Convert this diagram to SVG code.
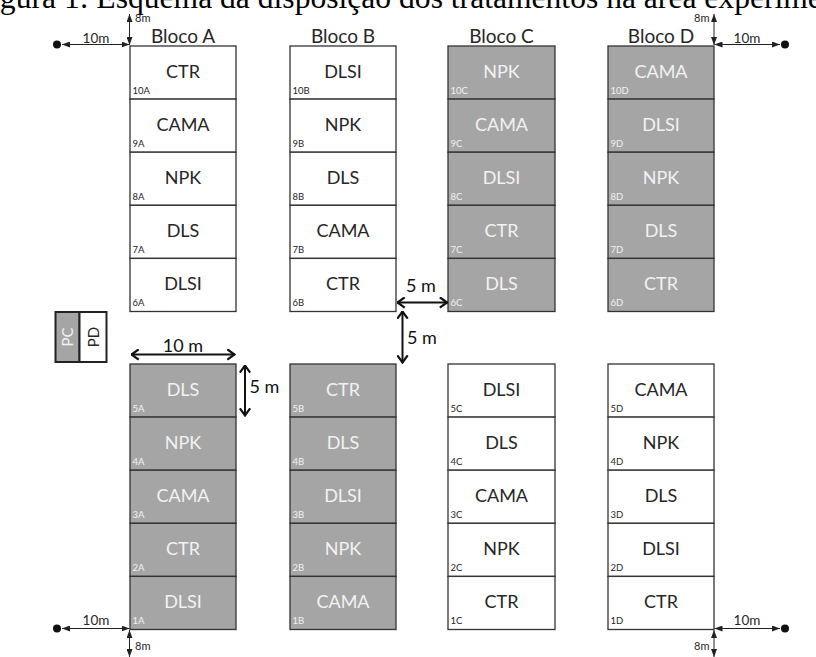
<svg xmlns="http://www.w3.org/2000/svg" width="816" height="657" viewBox="0 0 816 657">
<defs>
<style>
.w{fill:#ffffff;stroke:#333333;stroke-width:1.3}
.g{fill:#a5a5a5;stroke:#333333;stroke-width:1.3}
.t{font-family:Lato,"Noto Sans",sans-serif;font-size:18px;text-anchor:middle;fill:#262626}
.tg{font-family:Lato,"Noto Sans",sans-serif;font-size:18px;text-anchor:middle;fill:#f2f2f2}
.n{font-family:Lato,"Noto Sans",sans-serif;font-size:9.5px;fill:#262626}
.ng{font-family:Lato,"Noto Sans",sans-serif;font-size:9.5px;fill:#f2f2f2}
.bl{font-family:Lato,"Noto Sans",sans-serif;font-size:19px;text-anchor:middle;fill:#262626}
.dim{font-family:Lato,"Noto Sans",sans-serif;font-size:13.5px;fill:#262626}
.sm{font-family:Lato,"Noto Sans",sans-serif;font-size:11px;fill:#262626}
.big{font-family:Lato,"Noto Sans",sans-serif;font-size:18px;fill:#111111}
.thin{stroke:#222;stroke-width:1;fill:none;marker-start:url(#tri);marker-end:url(#tri)}
.thick{stroke:#111;stroke-width:2;fill:none;marker-start:url(#chev);marker-end:url(#chev)}
</style>
<marker id="tri" viewBox="0 0 8 6" refX="8" refY="3" markerWidth="8" markerHeight="6" markerUnits="userSpaceOnUse" orient="auto-start-reverse"><path d="M0,0 L8,3 L0,6 z" fill="#222"/></marker>
<marker id="chev" viewBox="0 0 9 12" refX="8.5" refY="6" markerWidth="9" markerHeight="12" markerUnits="userSpaceOnUse" orient="auto-start-reverse"><path d="M0.8,0.8 L8,6 L0.8,11.2" fill="none" stroke="#111" stroke-width="2.2"/></marker>
</defs>
<rect width="816" height="657" fill="#ffffff"/>
<text x="-26.5" y="7.5" font-family="'Liberation Serif',serif" font-size="31.6" fill="#000">Figura 1: Esquema da disposição dos tratamentos na área experimental</text>

<g id="block-labels">
<text class="bl" x="183" y="42.5">Bloco A</text>
<text class="bl" x="343" y="42.5">Bloco B</text>
<text class="bl" x="501.5" y="42.5">Bloco C</text>
<text class="bl" x="661" y="42.5">Bloco D</text>
</g>

<g id="plot-10A"><rect class="w" x="130" y="46" width="106" height="53.1"/><text class="t" x="183" y="78">CTR</text><text class="n" x="132.5" y="94">10A</text></g>
<g id="plot-9A"><rect class="w" x="130" y="99.1" width="106" height="53.1"/><text class="t" x="183" y="131.1">CAMA</text><text class="n" x="132.5" y="147.1">9A</text></g>
<g id="plot-8A"><rect class="w" x="130" y="152.2" width="106" height="53.1"/><text class="t" x="183" y="184.2">NPK</text><text class="n" x="132.5" y="200.2">8A</text></g>
<g id="plot-7A"><rect class="w" x="130" y="205.3" width="106" height="53.1"/><text class="t" x="183" y="237.3">DLS</text><text class="n" x="132.5" y="253.3">7A</text></g>
<g id="plot-6A"><rect class="w" x="130" y="258.4" width="106" height="53.1"/><text class="t" x="183" y="290.4">DLSI</text><text class="n" x="132.5" y="306.4">6A</text></g>

<g id="plot-10B"><rect class="w" x="290" y="46" width="106" height="53.1"/><text class="t" x="343" y="78">DLSI</text><text class="n" x="292.5" y="94">10B</text></g>
<g id="plot-9B"><rect class="w" x="290" y="99.1" width="106" height="53.1"/><text class="t" x="343" y="131.1">NPK</text><text class="n" x="292.5" y="147.1">9B</text></g>
<g id="plot-8B"><rect class="w" x="290" y="152.2" width="106" height="53.1"/><text class="t" x="343" y="184.2">DLS</text><text class="n" x="292.5" y="200.2">8B</text></g>
<g id="plot-7B"><rect class="w" x="290" y="205.3" width="106" height="53.1"/><text class="t" x="343" y="237.3">CAMA</text><text class="n" x="292.5" y="253.3">7B</text></g>
<g id="plot-6B"><rect class="w" x="290" y="258.4" width="106" height="53.1"/><text class="t" x="343" y="290.4">CTR</text><text class="n" x="292.5" y="306.4">6B</text></g>

<g id="plot-10C"><rect class="g" x="448" y="46" width="107" height="53.1"/><text class="tg" x="501.5" y="78">NPK</text><text class="ng" x="450.5" y="94">10C</text></g>
<g id="plot-9C"><rect class="g" x="448" y="99.1" width="107" height="53.1"/><text class="tg" x="501.5" y="131.1">CAMA</text><text class="ng" x="450.5" y="147.1">9C</text></g>
<g id="plot-8C"><rect class="g" x="448" y="152.2" width="107" height="53.1"/><text class="tg" x="501.5" y="184.2">DLSI</text><text class="ng" x="450.5" y="200.2">8C</text></g>
<g id="plot-7C"><rect class="g" x="448" y="205.3" width="107" height="53.1"/><text class="tg" x="501.5" y="237.3">CTR</text><text class="ng" x="450.5" y="253.3">7C</text></g>
<g id="plot-6C"><rect class="g" x="448" y="258.4" width="107" height="53.1"/><text class="tg" x="501.5" y="290.4">DLS</text><text class="ng" x="450.5" y="306.4">6C</text></g>

<g id="plot-10D"><rect class="g" x="608" y="46" width="106" height="53.1"/><text class="tg" x="661" y="78">CAMA</text><text class="ng" x="610.5" y="94">10D</text></g>
<g id="plot-9D"><rect class="g" x="608" y="99.1" width="106" height="53.1"/><text class="tg" x="661" y="131.1">DLSI</text><text class="ng" x="610.5" y="147.1">9D</text></g>
<g id="plot-8D"><rect class="g" x="608" y="152.2" width="106" height="53.1"/><text class="tg" x="661" y="184.2">NPK</text><text class="ng" x="610.5" y="200.2">8D</text></g>
<g id="plot-7D"><rect class="g" x="608" y="205.3" width="106" height="53.1"/><text class="tg" x="661" y="237.3">DLS</text><text class="ng" x="610.5" y="253.3">7D</text></g>
<g id="plot-6D"><rect class="g" x="608" y="258.4" width="106" height="53.1"/><text class="tg" x="661" y="290.4">CTR</text><text class="ng" x="610.5" y="306.4">6D</text></g>

<g id="plot-5A"><rect class="g" x="130" y="364" width="106" height="53.1"/><text class="tg" x="183" y="396">DLS</text><text class="ng" x="132.5" y="412">5A</text></g>
<g id="plot-4A"><rect class="g" x="130" y="417.1" width="106" height="53.1"/><text class="tg" x="183" y="449.1">NPK</text><text class="ng" x="132.5" y="465.1">4A</text></g>
<g id="plot-3A"><rect class="g" x="130" y="470.2" width="106" height="53.1"/><text class="tg" x="183" y="502.2">CAMA</text><text class="ng" x="132.5" y="518.2">3A</text></g>
<g id="plot-2A"><rect class="g" x="130" y="523.3" width="106" height="53.1"/><text class="tg" x="183" y="555.3">CTR</text><text class="ng" x="132.5" y="571.3">2A</text></g>
<g id="plot-1A"><rect class="g" x="130" y="576.4" width="106" height="53.1"/><text class="tg" x="183" y="608.4">DLSI</text><text class="ng" x="132.5" y="624.4">1A</text></g>

<g id="plot-5B"><rect class="g" x="290" y="364" width="106" height="53.1"/><text class="tg" x="343" y="396">CTR</text><text class="ng" x="292.5" y="412">5B</text></g>
<g id="plot-4B"><rect class="g" x="290" y="417.1" width="106" height="53.1"/><text class="tg" x="343" y="449.1">DLS</text><text class="ng" x="292.5" y="465.1">4B</text></g>
<g id="plot-3B"><rect class="g" x="290" y="470.2" width="106" height="53.1"/><text class="tg" x="343" y="502.2">DLSI</text><text class="ng" x="292.5" y="518.2">3B</text></g>
<g id="plot-2B"><rect class="g" x="290" y="523.3" width="106" height="53.1"/><text class="tg" x="343" y="555.3">NPK</text><text class="ng" x="292.5" y="571.3">2B</text></g>
<g id="plot-1B"><rect class="g" x="290" y="576.4" width="106" height="53.1"/><text class="tg" x="343" y="608.4">CAMA</text><text class="ng" x="292.5" y="624.4">1B</text></g>

<g id="plot-5C"><rect class="w" x="448" y="364" width="107" height="53.1"/><text class="t" x="501.5" y="396">DLSI</text><text class="n" x="450.5" y="412">5C</text></g>
<g id="plot-4C"><rect class="w" x="448" y="417.1" width="107" height="53.1"/><text class="t" x="501.5" y="449.1">DLS</text><text class="n" x="450.5" y="465.1">4C</text></g>
<g id="plot-3C"><rect class="w" x="448" y="470.2" width="107" height="53.1"/><text class="t" x="501.5" y="502.2">CAMA</text><text class="n" x="450.5" y="518.2">3C</text></g>
<g id="plot-2C"><rect class="w" x="448" y="523.3" width="107" height="53.1"/><text class="t" x="501.5" y="555.3">NPK</text><text class="n" x="450.5" y="571.3">2C</text></g>
<g id="plot-1C"><rect class="w" x="448" y="576.4" width="107" height="53.1"/><text class="t" x="501.5" y="608.4">CTR</text><text class="n" x="450.5" y="624.4">1C</text></g>

<g id="plot-5D"><rect class="w" x="608" y="364" width="106" height="53.1"/><text class="t" x="661" y="396">CAMA</text><text class="n" x="610.5" y="412">5D</text></g>
<g id="plot-4D"><rect class="w" x="608" y="417.1" width="106" height="53.1"/><text class="t" x="661" y="449.1">NPK</text><text class="n" x="610.5" y="465.1">4D</text></g>
<g id="plot-3D"><rect class="w" x="608" y="470.2" width="106" height="53.1"/><text class="t" x="661" y="502.2">DLS</text><text class="n" x="610.5" y="518.2">3D</text></g>
<g id="plot-2D"><rect class="w" x="608" y="523.3" width="106" height="53.1"/><text class="t" x="661" y="555.3">DLSI</text><text class="n" x="610.5" y="571.3">2D</text></g>
<g id="plot-1D"><rect class="w" x="608" y="576.4" width="106" height="53.1"/><text class="t" x="661" y="608.4">CTR</text><text class="n" x="610.5" y="624.4">1D</text></g>

<g id="legend">
<rect x="55.5" y="312" width="24" height="50" fill="#a5a5a5" stroke="#222" stroke-width="2"/>
<rect x="79.5" y="312" width="27" height="50" fill="#ffffff" stroke="#222" stroke-width="2"/>
<text x="0" y="0" transform="translate(72.5,337) rotate(-90)" font-family="Lato,'Noto Sans',sans-serif" font-size="15" text-anchor="middle" fill="#f2f2f2">PC</text>
<text x="0" y="0" transform="translate(98.5,337) rotate(-90)" font-family="Lato,'Noto Sans',sans-serif" font-size="15" text-anchor="middle" fill="#262626">PD</text>
</g>

<g id="connectors">
<circle cx="57" cy="44.5" r="4" fill="#111"/>
<line class="thin" x1="62" y1="44.5" x2="129.5" y2="44.5"/>
<line class="thin" x1="129.5" y1="14" x2="129.5" y2="45"/>
<circle cx="785" cy="44.5" r="4" fill="#111"/>
<line class="thin" x1="714.5" y1="44.5" x2="780" y2="44.5"/>
<line class="thin" x1="714" y1="14" x2="714" y2="45"/>
<circle cx="57" cy="628.5" r="4" fill="#111"/>
<line class="thin" x1="62" y1="628.5" x2="129.5" y2="628.5"/>
<line class="thin" x1="129.5" y1="630" x2="129.5" y2="657"/>
<circle cx="785" cy="628.5" r="4" fill="#111"/>
<line class="thin" x1="714.5" y1="628.5" x2="780" y2="628.5"/>
<line class="thin" x1="714" y1="630" x2="714" y2="657"/>
<line class="thick" x1="131" y1="354.5" x2="235" y2="354.5"/>
<line class="thick" x1="245" y1="365" x2="245" y2="416"/>
<line class="thick" x1="397" y1="302.5" x2="447.5" y2="302.5"/>
<line class="thick" x1="402.5" y1="311" x2="402.5" y2="363"/>
</g>

<g id="dimension-labels">
<text class="dim" x="96" y="42.5" text-anchor="middle">10m</text>
<text class="sm" x="135" y="22">8m</text>
<text class="dim" x="747" y="42.5" text-anchor="middle">10m</text>
<text class="sm" x="709.5" y="22" text-anchor="end">8m</text>
<text class="dim" x="96" y="625" text-anchor="middle">10m</text>
<text class="sm" x="135" y="650">8m</text>
<text class="dim" x="747" y="625" text-anchor="middle">10m</text>
<text class="sm" x="709.5" y="650" text-anchor="end">8m</text>
<text class="big" x="183" y="351.5" text-anchor="middle">10 m</text>
<text class="big" x="249.5" y="393">5 m</text>
<text class="big" x="421" y="292" text-anchor="middle">5 m</text>
<text class="big" x="407" y="343.5">5 m</text>
</g>
</svg>
